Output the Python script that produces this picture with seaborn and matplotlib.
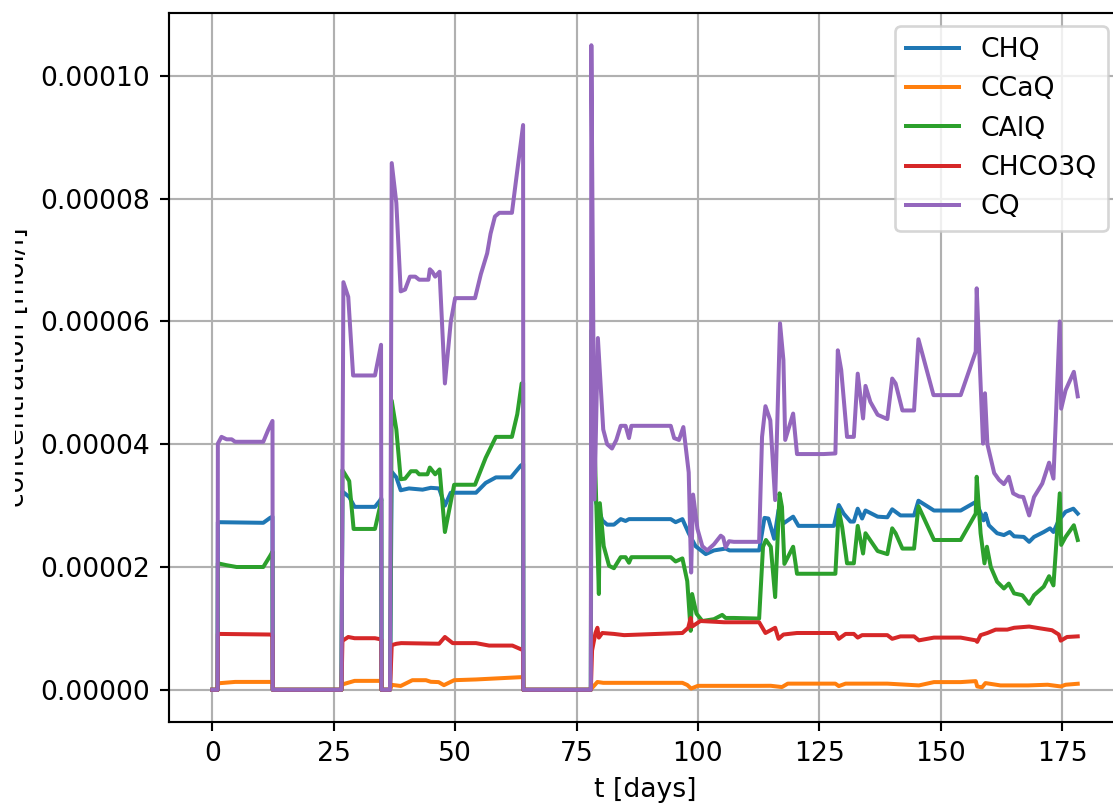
import numpy as np
import matplotlib
matplotlib.use("Agg")
import matplotlib.pyplot as plt
import seaborn as sns
from matplotlib.transforms import Bbox, TransformedBbox

# ---------------- data (t in days) ----------------
# CQ and CHQ / CAlQ values in units of 1e-5 mol/l
CQ_t = [0, 1.1, 1.15, 1.9, 2.95, 4.0, 4.7, 10.5, 11.5, 12.4, 12.45,
        26.6, 27.0, 28.0, 29.0, 33.5, 34.75, 34.85,
        36.6, 36.95, 37.9, 38.8, 39.7, 40.7, 41.8, 42.6, 44.5, 44.8, 45.3, 45.9, 46.8, 47.9, 49.1, 50.0, 54.1, 55.3, 56.6, 57.3, 58.2, 59.1, 61.7, 62.5, 64.0, 64.05,
        77.95, 78.05, 78.7, 79.4, 80.5, 81.3, 82.3, 83.2, 84.1, 85.1, 85.8, 86.3, 94.4, 95.1, 96.1, 97.0, 98.1, 98.6, 99.0, 99.9, 100.9, 101.9, 103.3, 104.7, 105.2, 105.7, 106.4, 107.4, 112.6,
        113.2, 113.9, 114.9, 115.9, 116.9, 117.6, 117.97, 119.6, 120.4, 125.9, 128.3, 128.8, 129.5, 130.7, 132.1, 132.9, 134.0, 134.5, 135.5, 137.0, 139.0, 140.0, 140.7, 142.1, 144.5, 145.4, 148.5, 154.1,
        157.2, 157.4, 158.7, 159.1, 159.6, 161.0, 162.0, 163.0, 164.0, 164.9, 166.1, 167.0, 168.2, 169.2, 170.9, 172.3, 173.2, 174.5, 174.8, 175.7, 177.4, 178.2]
CQ = [0, 0, 4.01, 4.12, 4.08, 4.08, 4.04, 4.04, 4.23, 4.38, 0,
      0, 6.64, 6.40, 5.12, 5.12, 5.62, 0,
      0, 8.58, 7.93, 6.49, 6.52, 6.73, 6.73, 6.68, 6.68, 6.85, 6.81, 6.73, 6.81, 4.99, 5.99, 6.38, 6.38, 6.77, 7.11, 7.43, 7.71, 7.77, 7.77, 8.27, 9.20, 0,
      0, 10.5, 3.1, 5.73, 4.24, 4.0, 3.93, 4.07, 4.30, 4.30, 4.10, 4.30, 4.30, 4.10, 4.07, 4.28, 3.54, 1.91, 3.18, 2.62, 2.34, 2.27, 2.37, 2.51, 2.48, 2.32, 2.42, 2.41, 2.41,
      4.12, 4.62, 4.39, 3.09, 5.97, 5.37, 4.07, 4.50, 3.84, 3.84, 3.85, 5.53, 5.21, 4.12, 4.12, 5.15, 4.42, 4.95, 4.69, 4.48, 4.41, 5.07, 4.99, 4.55, 4.55, 5.71, 4.80, 4.80,
      5.51, 6.54, 4.01, 4.83, 4.0, 3.53, 3.42, 3.35, 3.47, 3.20, 3.15, 3.14, 2.84, 3.14, 3.36, 3.70, 3.44, 6.0, 4.58, 4.88, 5.18, 4.78]

CHQ_t = [0, 1.1, 1.15, 10.5, 11.9, 12.4, 12.45,
         26.6, 26.8, 28.2, 29.3, 33.5, 34.5, 34.8, 34.85,
         36.6, 36.95, 37.9, 38.8, 40.5, 43.3, 45.0, 46.7, 47.9, 49.1, 54.3, 56.3, 58.4, 61.5, 63.5, 64.0, 64.05,
         77.95, 78.05, 79.0, 80.3, 81.3, 82.7, 84.1, 85.1, 85.8, 86.5, 94.4, 95.4, 96.8, 98.1, 99.5, 101.6, 103.3, 105.7, 106.5, 112.6,
         113.7, 114.5, 115.7, 116.6, 117.6, 119.6, 120.7, 128.0, 129.0, 130.0, 131.4, 132.1, 132.9, 133.8, 134.5, 137.0, 139.0, 140.0, 141.7, 144.5, 145.4, 148.6, 154.1,
         157.2, 157.7, 158.8, 159.2, 159.9, 161.6, 163.0, 164.2, 165.1, 167.1, 168.2, 169.2, 171.2, 172.5, 173.2, 174.3, 175.7, 177.3, 178.2]
CHQ = [0, 0, 2.73, 2.72, 2.80, 2.82, 0,
       0, 3.23, 3.14, 2.98, 2.98, 3.08, 3.12, 0,
       0, 3.55, 3.46, 3.25, 3.28, 3.26, 3.29, 3.28, 3.0, 3.21, 3.21, 3.37, 3.46, 3.46, 3.65, 3.68, 0,
       0, 3.86, 3.06, 2.76, 2.69, 2.69, 2.78, 2.75, 2.78, 2.78, 2.78, 2.73, 2.78, 2.55, 2.34, 2.21, 2.27, 2.30, 2.27, 2.27,
       2.80, 2.79, 2.46, 2.93, 2.71, 2.82, 2.67, 2.67, 3.01, 2.87, 2.74, 2.74, 2.95, 2.79, 2.92, 2.82, 2.81, 2.94, 2.84, 2.84, 3.08, 2.92, 2.92,
       3.06, 2.98, 2.76, 2.87, 2.68, 2.55, 2.52, 2.57, 2.50, 2.49, 2.41, 2.49, 2.57, 2.63, 2.57, 2.76, 2.90, 2.95, 2.87]

CALQ_t = [0, 1.1, 1.15, 2.9, 5.0, 10.5, 11.9, 12.4, 12.45,
          26.6, 26.8, 28.2, 29.1, 33.5, 34.5, 34.8, 34.85,
          36.6, 36.95, 37.9, 38.8, 39.7, 40.9, 42.0, 42.6, 44.3, 44.8, 45.9, 46.8, 47.9, 49.8, 54.1, 56.3, 58.4, 61.7, 62.8, 63.7, 64.0, 64.05,
          77.95, 78.05, 79.6, 79.8, 80.6, 81.7, 82.7, 84.1, 85.1, 85.8, 86.3, 94.4, 95.4, 96.8, 97.8, 98.5, 98.8, 99.7, 100.9, 103.3, 105.0, 105.7, 107.4, 112.6,
          113.4, 114.0, 115.0, 115.9, 116.8, 117.3, 117.8, 119.6, 120.4, 128.3, 129.0, 129.7, 130.7, 132.1, 132.9, 134.0, 134.5, 137.0, 139.0, 140.0, 140.7, 142.1, 144.5, 145.4, 148.6, 154.1,
          157.2, 157.4, 158.2, 159.0, 159.5, 160.3, 161.6, 163.0, 164.0, 165.1, 166.8, 168.2, 169.2, 171.2, 172.3, 173.2, 174.5, 174.8, 175.7, 177.4, 178.2]
CALQ = [0, 0, 2.06, 2.03, 2.0, 2.0, 2.18, 2.25, 0,
        0, 3.58, 3.40, 2.62, 2.62, 2.97, 3.1, 0,
        0, 4.71, 4.24, 3.43, 3.44, 3.56, 3.56, 3.51, 3.51, 3.62, 3.51, 3.59, 2.57, 3.34, 3.34, 3.78, 4.12, 4.12, 4.49, 4.99, 5.0, 0,
        0, 5.85, 1.56, 3.04, 2.34, 2.02, 1.98, 2.16, 2.16, 2.07, 2.16, 2.16, 2.09, 2.14, 1.77, 0.96, 1.56, 1.24, 1.12, 1.15, 1.22, 1.17, 1.17, 1.16,
        2.33, 2.44, 2.33, 1.51, 3.20, 2.98, 2.05, 2.33, 1.89, 1.89, 2.93, 2.65, 2.06, 2.06, 2.67, 2.22, 2.55, 2.26, 2.21, 2.63, 2.55, 2.30, 2.30, 2.99, 2.44, 2.44,
        2.87, 3.47, 2.55, 2.06, 2.33, 2.0, 1.76, 1.65, 1.73, 1.57, 1.54, 1.40, 1.54, 1.68, 1.85, 1.70, 3.20, 2.36, 2.49, 2.68, 2.44]

# CHCO3Q and CCaQ values in units of 1e-6 mol/l
CHCO3Q_t = [0, 1.1, 1.15, 11.9, 12.4, 12.45,
            26.6, 26.8, 28.0, 29.3, 33.5, 34.8, 34.85,
            36.6, 36.95, 37.9, 38.9, 46.7, 47.9, 49.5, 54.3, 57.0, 61.8, 63.7, 64.0, 64.05,
            77.95, 78.2, 78.9, 79.3, 79.6, 80.3, 82.7, 84.8, 96.8, 98.0, 98.5, 98.8, 100.5, 105.4, 112.6,
            113.9, 115.9, 116.6, 117.6, 120.4, 128.3, 129.0, 130.4, 132.1, 132.9, 133.8, 139.0, 140.0, 141.7, 144.5, 145.5, 148.6, 154.1,
            157.2, 157.5, 158.2, 159.6, 161.3, 163.7, 165.1, 168.2, 170.5, 172.9, 174.3, 174.7, 176.0, 178.2]
CHCO3Q = [0, 0, 9.1, 9.0, 8.9, 0,
          0, 7.97, 8.6, 8.4, 8.4, 8.2, 0,
          0, 7.27, 7.49, 7.6, 7.5, 8.6, 7.6, 7.6, 7.2, 7.2, 6.55, 6.5, 0,
          0, 6.4, 9.25, 10.1, 8.5, 9.25, 9.1, 8.9, 9.25, 10.1, 11.7, 10.3, 11.2, 11.0, 11.0,
          9.25, 10.1, 8.3, 9.0, 9.25, 9.25, 8.3, 9.1, 9.1, 8.5, 8.9, 8.9, 8.3, 8.7, 8.7, 8.05, 8.5, 8.5,
          8.05, 7.8, 8.9, 9.25, 9.8, 9.8, 10.1, 10.3, 10.0, 9.7, 9.0, 8.0, 8.6, 8.7]

CCAQ_t = [0, 1.1, 1.15, 4.7, 11.9, 12.4, 12.45,
          26.6, 26.8, 29.3, 33.5, 34.8, 34.85,
          36.6, 36.95, 38.8, 41.2, 44.0, 45.0, 46.6, 47.7, 49.8, 54.3, 63.7, 64.0, 64.05,
          77.95, 78.2, 79.3, 80.5, 96.8, 97.8, 98.6, 100.0, 112.6,
          115.0, 117.3, 118.5, 128.3, 129.0, 130.4, 139.0, 145.5, 148.6, 154.1,
          157.2, 157.5, 158.5, 159.2, 162.3, 168.0, 172.0, 174.7, 175.7, 178.2]
CCAQ = [0, 0, 1.05, 1.28, 1.28, 1.3, 0,
        0, 0.87, 1.45, 1.45, 1.45, 0,
        0, 0.8, 0.62, 1.56, 1.56, 1.3, 1.25, 0.75, 1.56, 1.68, 2.06, 2.06, 0,
        0, 0.3, 1.27, 1.13, 1.13, 0.78, 0.2, 0.64, 0.64,
        0.65, 0.44, 1.0, 1.0, 0.6, 1.0, 1.0, 0.71, 1.25, 1.25,
        1.41, 0.54, 0.4, 1.09, 0.71, 0.71, 0.82, 0.54, 0.82, 0.98]

SERIES_NAMES = ["CHQ", "CCaQ", "CAlQ", "CHCO3Q", "CQ"]

# ---------------- figure ----------------
DPI = 192
W, H = 1113, 808
fig = plt.figure(figsize=(W / DPI, H / DPI), dpi=DPI)
ax = fig.add_axes([169 / W, 86 / H, 952 / W, 709 / H])

series = [
    (CHQ_t, np.array(CHQ) * 1e-5),
    (CCAQ_t, np.array(CCAQ) * 1e-6),
    (CALQ_t, np.array(CALQ) * 1e-5),
    (CHCO3Q_t, np.array(CHCO3Q) * 1e-6),
    (CQ_t, np.array(CQ) * 1e-5),
]
colors = ["C0", "C1", "C2", "C3", "C4"]

for name, (t, v), c in zip(SERIES_NAMES, series, colors):
    sns.lineplot(x=np.array(t, dtype=float), y=v, ax=ax, label=name, color=c,
                 linewidth=1.5, estimator=None, sort=False)

ax.grid(True)
ax.set_xlabel("t [days]")
ax.set_ylabel("concentration [mol/l]")
ax.legend(loc="upper right")

# the reference shows the y label cut on its left side
ylab = ax.yaxis.label
ylab.set_clip_box(TransformedBbox(Bbox([[15 / W, 0], [1, 1]]), fig.transFigure))
ylab.set_clip_on(True)

fig.savefig("out.png", dpi=DPI)
